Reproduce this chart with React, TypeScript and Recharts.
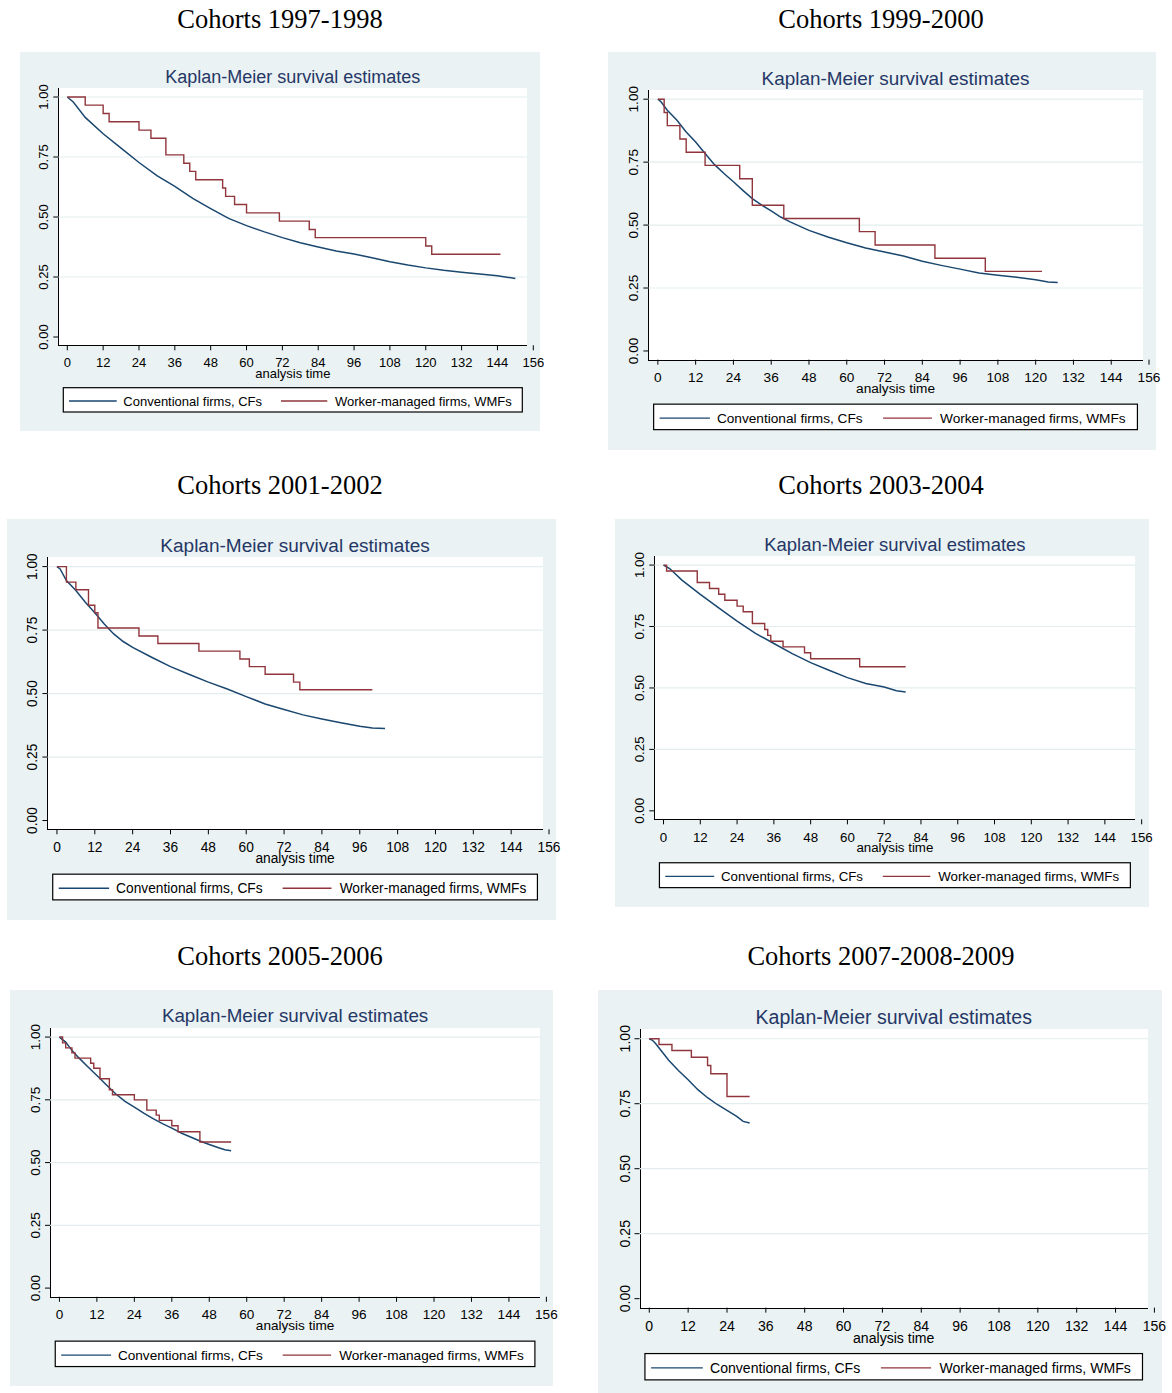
import { Line, LineChart, ReferenceLine, XAxis, YAxis } from 'recharts'

// tick values and labels
const tickMonths = [0, 12, 24, 36, 48, 60, 72, 84, 96, 108, 120, 132, 144, 156]
const tickSurvival = [0, 0.25, 0.5, 0.75, 1]
const gridSurvival = [0.25, 0.5, 0.75, 1]
const seriesNames = ['Conventional firms, CFs', 'Worker-managed firms, WMFs']
const cohortTitles = [
  'Cohorts 1997-1998',
  'Cohorts 1999-2000',
  'Cohorts 2001-2002',
  'Cohorts 2003-2004',
  'Cohorts 2005-2006',
  'Cohorts 2007-2008-2009'
]

// Kaplan-Meier estimates (time in months, survival share)
const cf9798Time = [0, 2, 6, 12, 18, 24, 30, 36, 42, 48, 54, 60, 66, 72, 78, 84, 90, 96, 102, 108, 114, 120, 126, 132, 138, 144, 150]
const cf9798Surv = [1, 0.979, 0.915, 0.847, 0.787, 0.727, 0.672, 0.628, 0.578, 0.535, 0.494, 0.464, 0.438, 0.414, 0.393, 0.375, 0.358, 0.346, 0.33, 0.314, 0.3, 0.288, 0.278, 0.27, 0.262, 0.255, 0.244]
const wmf9798Time = [0, 6, 12, 14, 24, 28, 33, 39, 41, 43, 52, 53, 56, 60, 71, 81, 83, 120, 122, 145]
const wmf9798Surv = [1, 0.966, 0.931, 0.897, 0.862, 0.828, 0.759, 0.724, 0.69, 0.655, 0.621, 0.586, 0.552, 0.517, 0.483, 0.448, 0.414, 0.379, 0.345, 0.345]

const cf9900Time = [0, 1, 3, 6, 9, 12, 15, 18, 21, 24, 27, 30, 33, 36, 39, 42, 48, 54, 60, 66, 72, 78, 84, 90, 96, 102, 108, 114, 120, 124, 127]
const cf9900Surv = [1, 0.99, 0.956, 0.917, 0.87, 0.83, 0.784, 0.74, 0.705, 0.672, 0.638, 0.605, 0.579, 0.556, 0.532, 0.513, 0.479, 0.453, 0.43, 0.409, 0.393, 0.377, 0.356, 0.34, 0.325, 0.31, 0.301, 0.293, 0.283, 0.274, 0.272]
const wmf9900Time = [0, 2, 3, 7, 9, 15, 26, 30, 40, 64, 69, 88, 104, 122]
const wmf9900Surv = [1, 0.947, 0.895, 0.842, 0.789, 0.737, 0.684, 0.579, 0.526, 0.474, 0.421, 0.368, 0.316, 0.316]

const cf0102Time = [0, 1, 3, 6, 9, 12, 15, 18, 21, 24, 30, 36, 42, 48, 54, 60, 66, 72, 78, 84, 90, 96, 100, 104]
const cf0102Surv = [1, 0.991, 0.945, 0.906, 0.86, 0.818, 0.774, 0.735, 0.705, 0.682, 0.643, 0.606, 0.575, 0.545, 0.518, 0.488, 0.459, 0.437, 0.416, 0.4, 0.385, 0.371, 0.364, 0.362]
const wmf0102Time = [0, 3, 6, 10, 12, 13, 26, 32, 45, 58, 61, 66, 75, 77, 100]
const wmf0102Surv = [1, 0.939, 0.909, 0.848, 0.818, 0.758, 0.727, 0.697, 0.667, 0.636, 0.606, 0.576, 0.545, 0.515, 0.515]

const cf0304Time = [0, 2, 6, 12, 18, 24, 30, 36, 42, 48, 54, 60, 66, 72, 76, 79]
const cf0304Surv = [1, 0.986, 0.939, 0.881, 0.826, 0.772, 0.722, 0.681, 0.64, 0.603, 0.572, 0.542, 0.518, 0.504, 0.489, 0.484]
const wmf0304Time = [0, 1, 11, 15, 18, 20, 24, 26, 29, 33, 34, 35, 39, 46, 48, 64, 79]
const wmf0304Surv = [1, 0.976, 0.929, 0.905, 0.881, 0.857, 0.833, 0.81, 0.762, 0.738, 0.714, 0.69, 0.667, 0.643, 0.619, 0.586, 0.586]

const cf0506Time = [0, 2, 4, 6, 9, 12, 15, 18, 21, 24, 27, 30, 33, 36, 39, 42, 45, 48, 51, 53, 55]
const cf0506Surv = [1, 0.98, 0.947, 0.92, 0.883, 0.847, 0.81, 0.774, 0.744, 0.721, 0.697, 0.675, 0.655, 0.637, 0.618, 0.602, 0.586, 0.572, 0.559, 0.551, 0.547]
const wmf0506Time = [0, 1, 2, 4, 5, 10, 11, 13, 16, 17, 24, 28, 31, 32, 36, 38, 45, 55]
const wmf0506Surv = [1, 0.977, 0.957, 0.937, 0.916, 0.896, 0.876, 0.834, 0.79, 0.77, 0.75, 0.709, 0.689, 0.668, 0.647, 0.623, 0.582, 0.582]

const cf0709Time = [0, 1, 2, 4, 6, 9, 12, 15, 18, 21, 24, 27, 29, 31]
const cf0709Surv = [1, 0.994, 0.981, 0.949, 0.917, 0.878, 0.842, 0.804, 0.773, 0.747, 0.724, 0.701, 0.682, 0.676]
const wmf0709Time = [0, 3, 7, 13, 18, 19, 24, 31]
const wmf0709Surv = [1, 0.978, 0.955, 0.929, 0.897, 0.865, 0.778, 0.778]

const toPoints = (t: number[], s: number[]) => t.map((v, i) => ({ t: v, s: s[i] }))

const cohorts = [
  { cf: toPoints(cf9798Time, cf9798Surv), wmf: toPoints(wmf9798Time, wmf9798Surv) },
  { cf: toPoints(cf9900Time, cf9900Surv), wmf: toPoints(wmf9900Time, wmf9900Surv) },
  { cf: toPoints(cf0102Time, cf0102Surv), wmf: toPoints(wmf0102Time, wmf0102Surv) },
  { cf: toPoints(cf0304Time, cf0304Surv), wmf: toPoints(wmf0304Time, wmf0304Surv) },
  { cf: toPoints(cf0506Time, cf0506Surv), wmf: toPoints(wmf0506Time, wmf0506Surv) },
  { cf: toPoints(cf0709Time, cf0709Surv), wmf: toPoints(wmf0709Time, wmf0709Surv) }
]

// where each stata graph sits on the page and how much it was stretched
const frames = [
  { left: 20, top: 52, sx: 1, sy: 1, titleX: 280, titleY: 28 },
  { left: 608, top: 52, sx: 1.054, sy: 1.049, titleX: 881, titleY: 28 },
  { left: 7, top: 519, sx: 1.056, sy: 1.058, titleX: 280, titleY: 494 },
  { left: 615, top: 519, sx: 1.026, sy: 1.024, titleX: 881, titleY: 494 },
  { left: 10, top: 990, sx: 1.045, sy: 1.046, titleX: 280, titleY: 965 },
  { left: 598, top: 990, sx: 1.084, sy: 1.083, titleX: 881, titleY: 965 }
]

// geometry of one graph at scale 1 (px inside the grey box)
const G = {
  w: 520, h: 379,
  x0: 47.3, x156: 513.3, y1: 45, y0: 285,
  plotL: 38.3, plotR: 507.3, plotT: 36, plotB: 293.3,
  kmY: 31, tickY: 315, axisTitleY: 325.5,
  legX: 43.3, legY: 335.7, legW: 459, legH: 24.3
}

const CF_COLOR = '#1a476f'
const WMF_COLOR = '#90353b'
const BG = '#eaf2f3'
const GRID = '#e3eded'

const YTick = (props: any) => {
  const { x, y, payload, fontSize } = props
  return (
    <text x={x} y={y} transform={`rotate(-90 ${x} ${y})`} textAnchor="middle" fontSize={fontSize} fill="#000">
      {Number(payload.value).toFixed(2)}
    </text>
  )
}

function Panel({ idx }: { idx: number }) {
  const f = frames[idx]
  const { cf, wmf } = cohorts[idx]
  const { sx, sy } = f
  const w = G.w * sx
  const h = G.h * sy
  const fs = (sx + sy) / 2
  const pxT = ((G.x156 - G.x0) * sx) / 156
  const pxS = (G.y0 - G.y1) * sy
  const xMin = -((G.x0 - G.plotL) * sx) / pxT
  const tRight = ((G.plotR - G.x0) * sx) / pxT
  const yMax = 1 + ((G.y1 - G.plotT) * sy) / pxS
  const yMin = -((G.plotB - G.y0) * sy) / pxS
  const yAxisW = 30
  const xAxisH = 30
  const tickFs = 13 * fs
  const xTickMargin = G.tickY * sy - 0.71 * tickFs - G.plotB * sy - 5
  const margin = {
    left: G.plotL * sx - yAxisW,
    top: G.plotT * sy,
    right: w - G.x156 * sx,
    bottom: h - G.plotB * sy - xAxisH
  }
  const cx = ((G.plotL + G.plotR) / 2) * sx

  return (
    <div
      style={{
        position: 'absolute',
        left: f.left,
        top: f.top,
        width: w,
        height: h,
        background: BG,
        fontFamily: '"Liberation Sans", Arial, Helvetica, sans-serif'
      }}
    >
      <div
        style={{
          position: 'absolute',
          left: G.plotL * sx,
          top: G.plotT * sy,
          width: (G.plotR - G.plotL) * sx,
          height: (G.plotB - G.plotT) * sy + 1,
          background: '#fff',
          borderLeft: '1px solid #000',
          borderBottom: '1px solid #000',
          boxSizing: 'border-box'
        }}
      />
      <div style={{ position: 'absolute', left: 0, top: 0 }}>
        <LineChart width={w} height={h} margin={margin}>
          <XAxis
            dataKey="t"
            type="number"
            domain={[xMin, 156]}
            allowDataOverflow
            ticks={tickMonths}
            interval={0}
            axisLine={false}
            tickLine={{ stroke: '#000' }}
            tickSize={5}
            tickMargin={xTickMargin}
            height={xAxisH}
            tick={{ fill: '#000', fontSize: tickFs }}
          />
          <YAxis
            type="number"
            domain={[yMin, yMax]}
            allowDataOverflow
            ticks={tickSurvival}
            interval={0}
            axisLine={false}
            tickLine={{ stroke: '#000' }}
            tickSize={5}
            tickMargin={5}
            width={yAxisW}
            tick={(p: any) => <YTick {...p} fontSize={tickFs} />}
          />
          {gridSurvival.map((v) => (
            <ReferenceLine
              key={v}
              segment={[
                { x: xMin, y: v },
                { x: tRight, y: v }
              ]}
              stroke={GRID}
              strokeWidth={1.2}
            />
          ))}
          <Line
            data={cf}
            dataKey="s"
            type="linear"
            stroke={CF_COLOR}
            strokeWidth={1.5}
            dot={false}
            isAnimationActive={false}
          />
          <Line
            data={wmf}
            dataKey="s"
            type="stepAfter"
            stroke={WMF_COLOR}
            strokeWidth={1.4}
            dot={false}
            isAnimationActive={false}
          />
        </LineChart>
      </div>
      <svg width={w} height={h} style={{ position: 'absolute', left: 0, top: 0, pointerEvents: 'none', overflow: 'visible' }}>
        <text x={cx} y={G.kmY * sy} textAnchor="middle" fontSize={18 * fs} fill="#253766">
          Kaplan-Meier survival estimates
        </text>
        <text x={cx} y={G.axisTitleY * sy} textAnchor="middle" fontSize={13 * fs} fill="#000">
          analysis time
        </text>
        <rect
          x={G.legX * sx}
          y={G.legY * sy}
          width={G.legW * sx}
          height={G.legH * sy}
          fill="#fff"
          stroke="#000"
          strokeWidth={1.2}
        />
        <line x1={49 * sx} x2={96.7 * sx} y1={349 * sy} y2={349 * sy} stroke={CF_COLOR} strokeWidth={1.3} />
        <text x={103.3 * sx} y={353.5 * sy} fontSize={13 * fs} fill="#000">
          {seriesNames[0]}
        </text>
        <line x1={261 * sx} x2={307.3 * sx} y1={349 * sy} y2={349 * sy} stroke={WMF_COLOR} strokeWidth={1.3} />
        <text x={315 * sx} y={353.5 * sy} fontSize={13 * fs} fill="#000">
          {seriesNames[1]}
        </text>
      </svg>
    </div>
  )
}

export default function App() {
  return (
    <div style={{ position: 'absolute', left: 0, top: 0, width: 1172, height: 1393, background: '#fff', overflow: 'hidden' }}>
      <style>{'.recharts-surface{overflow:visible}'}</style>
      <svg width={1172} height={1393} style={{ position: 'absolute', left: 0, top: 0 }}>
        {frames.map((f, i) => (
          <text
            key={i}
            x={f.titleX}
            y={f.titleY}
            textAnchor="middle"
            fontSize={26.5}
            fill="#000"
            fontFamily='"Liberation Serif", "Times New Roman", serif'
          >
            {cohortTitles[i]}
          </text>
        ))}
      </svg>
      {frames.map((_, i) => (
        <Panel key={i} idx={i} />
      ))}
    </div>
  )
}
